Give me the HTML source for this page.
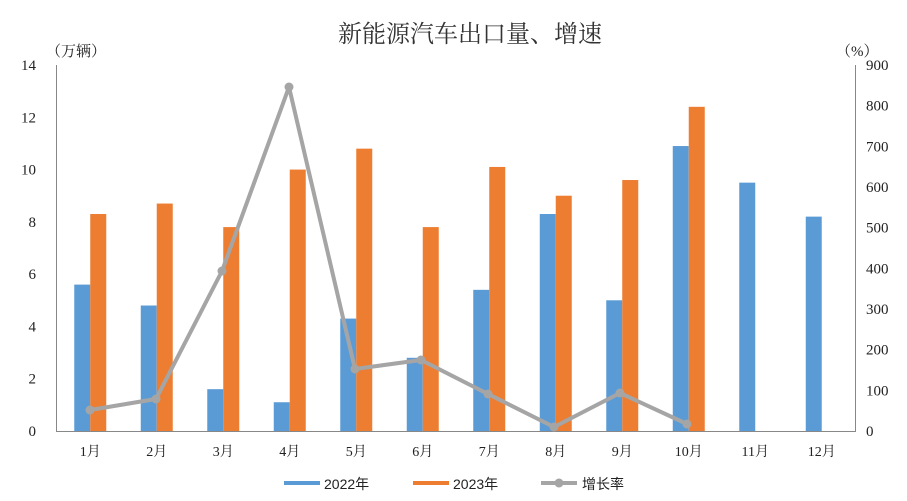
<!DOCTYPE html><html><head><meta charset="utf-8"><style>body{margin:0;background:#fff}svg{display:block}</style></head><body>
<svg width="907" height="501" xmlns="http://www.w3.org/2000/svg" font-family="Liberation Serif, Noto Serif CJK SC, serif">
<rect width="907" height="501" fill="#fff"/>
<text x="470" y="42" font-size="24" text-anchor="middle" fill="#333" font-family="Liberation Serif, Noto Serif CJK SC, serif">新能源汽车出口量、增速</text>
<text x="46" y="56" font-size="15" fill="#222">（万辆）</text>
<text x="836" y="56" font-size="15" fill="#222">（%）</text>
<line x1="56.5" y1="65" x2="56.5" y2="431" stroke="#888"/>
<line x1="855.5" y1="65" x2="855.5" y2="431" stroke="#888"/>
<line x1="56" y1="431.5" x2="856" y2="431.5" stroke="#888"/>
<g font-size="15" fill="#222" text-anchor="end" id="l"></g>
<g font-size="15" fill="#222" text-anchor="start" id="r"></g>
<g id="b"></g>
<g font-size="14" fill="#222" text-anchor="middle" id="x"></g>
<polyline fill="none" stroke="#a5a5a5" stroke-width="4" stroke-linejoin="round" points="90,410 156,399 222,271 289,87 355,369 421,360 488,394 554,427 620,393 687,424"/>
<g fill="#a5a5a5" id="d"></g>
<g font-family="Liberation Sans, Noto Sans CJK SC, sans-serif" font-size="14" fill="#222">
<rect x="284" y="481" width="36" height="4" fill="#5b9bd5"/><text x="324" y="489">2022年</text>
<rect x="413" y="481" width="36" height="4" fill="#ed7d31"/><text x="453" y="489">2023年</text>
<line x1="541" y1="483" x2="577" y2="483" stroke="#a5a5a5" stroke-width="4"/><circle cx="559" cy="483" r="4.5" fill="#a5a5a5"/><text x="582" y="489">增长率</text>
</g>
<script>
var ns="http://www.w3.org/2000/svg";function el(p,t,a,tx){var e=document.createElementNS(ns,t);for(var k in a)e.setAttribute(k,a[k]);if(tx)e.textContent=tx;document.getElementById(p).appendChild(e);}
for(var i=0;i<=7;i++){var y=431-i*2*26.143;el("l","text",{x:36,y:y+5},String(i*2));}
for(var i=0;i<=9;i++){var y=431-i*100*0.40667;el("r","text",{x:866,y:y+5},String(i*100));}
var a=[5.6,4.8,1.6,1.1,4.3,2.8,5.4,8.3,5.0,10.9,9.5,8.2],b=[8.3,8.7,7.8,10.0,10.8,7.8,10.1,9.0,9.6,12.4];
for(var i=0;i<12;i++){var c=57+66.5*(i+0.5);
el("b","rect",{x:c-16,y:431-a[i]*26.143,width:16,height:a[i]*26.143,fill:"#5b9bd5"});
if(i<10)el("b","rect",{x:c,y:431-b[i]*26.143,width:16,height:b[i]*26.143,fill:"#ed7d31"});
el("x","text",{x:c,y:456},(i+1)+"月");}
var p=[[90,410],[156,399],[222,271],[289,87],[355,369],[421,360],[488,394],[554,427],[620,393],[687,424]];
p.forEach(function(q){el("d","circle",{cx:q[0],cy:q[1],r:4.5});});
</script>
</svg></body></html>
